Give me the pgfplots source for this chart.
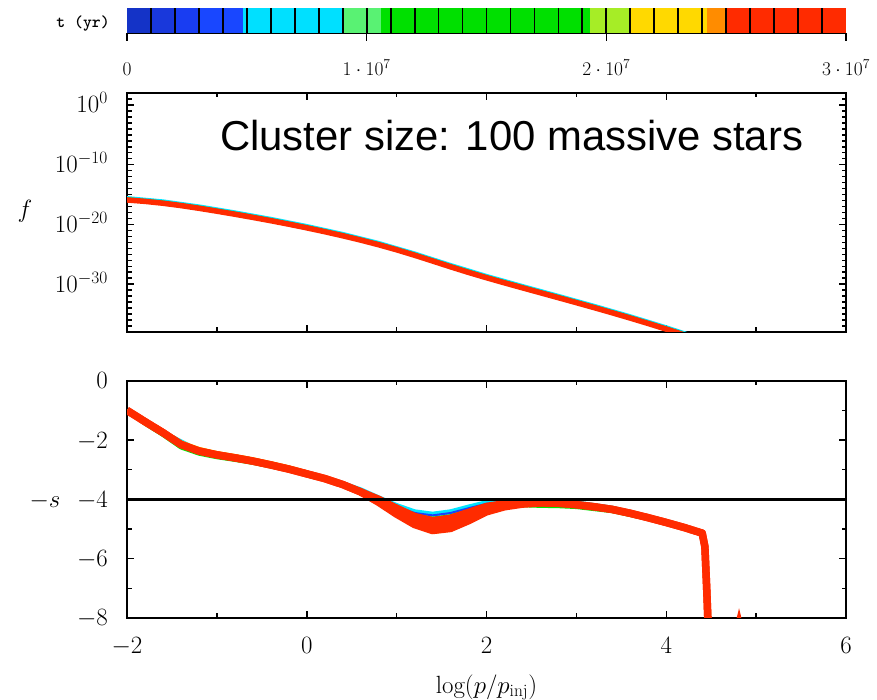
\RequirePackage{fix-cm}
\documentclass[border=0pt]{standalone}
\usepackage{fontspec}
\usepackage{pgfplots}
\pgfplotsset{compat=1.18}
\newfontfamily\arialfont{Liberation Sans}
\definecolor{cbA}{rgb}{0.08,0.2,0.78}
\definecolor{cbB}{rgb}{0.1,0.22,0.86}
\definecolor{cbC}{rgb}{0.1,0.24,0.95}
\definecolor{cbD}{rgb}{0.1,0.28,1}
\definecolor{cbE}{rgb}{0,0.88,1}
\definecolor{cbF}{rgb}{0.35,0.95,0.45}
\definecolor{cbG}{rgb}{0,0.88,0}
\definecolor{cbH}{rgb}{0.65,0.93,0.15}
\definecolor{cbI}{rgb}{1,0.85,0}
\definecolor{cbJ}{rgb}{1,0.55,0}
\definecolor{cbK}{rgb}{1,0.17,0}
\definecolor{pblue}{rgb}{0.1,0.25,1}
\definecolor{pcyan}{rgb}{0,0.9,1}
\definecolor{pgreen}{rgb}{0,0.9,0}
\definecolor{pyellow}{rgb}{1,0.9,0}
\definecolor{pred}{rgb}{1,0.17,0}
\pgfplotsset{
  gp/.style={scale only axis, width=719bp,
    axis line style={line width=2.4bp},
    tick align=inside, major tick length=7bp, minor tick length=4.5bp,
    tick style={black, line width=1.5bp},
    tick label style={font=\fontsize{25}{29}\selectfont},
    yticklabel style={anchor=base east, inner sep=0pt, xshift=-19bp, yshift=-8bp},
    xticklabel style={anchor=base, inner sep=0pt, yshift=-36bp},
    xmin=-2, xmax=6, xtick={-2,0,2,4,6}, minor xtick={-1,1,3,5}},
}
\begin{document}
\begin{tikzpicture}
\useasboundingbox (0bp,0bp) rectangle (877bp,700bp);

% ---------- colour bar ----------
\begin{axis}[at={(127bp,667bp)}, anchor=south west, scale only axis,
  width=719bp, height=25bp, xmin=0, xmax=30, ymin=0, ymax=1,
  axis x line*=bottom, axis y line=none,
  axis line style={line width=1.8bp},
  xtick={0,10,20,30},
  xticklabels={$0$,$1\cdot10^{7}$,$2\cdot10^{7}$,$3\cdot10^{7}$},
  tick align=outside, major tick length=8bp,
  tick style={black,line width=1.6bp},
  xticklabel style={font=\fontsize{19.5}{23}\selectfont, anchor=base, inner sep=0pt, yshift=-35bp}]
\addplot[fill=cbA, draw=none] coordinates {(0,1) (1,1)} \closedcycle;
\addplot[fill=cbB, draw=none] coordinates {(1,1) (2,1)} \closedcycle;
\addplot[fill=cbC, draw=none] coordinates {(2,1) (3,1)} \closedcycle;
\addplot[fill=cbD, draw=none] coordinates {(3,1) (4.85,1)} \closedcycle;
\addplot[fill=cbE, draw=none] coordinates {(4.85,1) (9,1)} \closedcycle;
\addplot[fill=cbF, draw=none] coordinates {(9,1) (10.6,1)} \closedcycle;
\addplot[fill=cbG, draw=none] coordinates {(10.6,1) (19.3,1)} \closedcycle;
\addplot[fill=cbH, draw=none] coordinates {(19.3,1) (21,1)} \closedcycle;
\addplot[fill=cbI, draw=none] coordinates {(21,1) (24.2,1)} \closedcycle;
\addplot[fill=cbJ, draw=none] coordinates {(24.2,1) (25,1)} \closedcycle;
\addplot[fill=cbK, draw=none] coordinates {(25,1) (30,1)} \closedcycle;
\addplot[ycomb, black, line width=1.8bp] coordinates {
 (1,1) (2,1) (3,1) (4,1) (5,1) (6,1) (7,1) (8,1) (9,1) (10,1)
 (11,1) (12,1) (13,1) (14,1) (15,1) (16,1) (17,1) (18,1) (19,1) (20,1)
 (21,1) (22,1) (23,1) (24,1) (25,1) (26,1) (27,1) (28,1) (29,1)};
\end{axis}

% ---------- f panel ----------
\begin{axis}[gp, at={(127bp,368bp)}, anchor=south west, height=239bp,
  ymode=log, ymin=1e-38, ymax=1e2,
  ytick={1e-30,1e-20,1e-10,1},
  yticklabels={$10^{-30}$,$10^{-20}$,$10^{-10}$,$10^{0}$},
  minor ytick={1e-37,1e-36,1e-35,1e-34,1e-33,1e-32,1e-31,
    1e-29,1e-28,1e-27,1e-26,1e-25,1e-24,1e-23,1e-22,1e-21,
    1e-19,1e-18,1e-17,1e-16,1e-15,1e-14,1e-13,1e-12,1e-11,
    1e-9,1e-8,1e-7,1e-6,1e-5,1e-4,1e-3,1e-2,1e-1,1e1},
  xticklabels={}]
\addplot[pcyan, line width=3bp] coordinates {
 (-2,3.162e-16) (-1.6,8.89e-17) (-1.2,1.279e-17) (-0.8,1.288e-18) (-0.4,1.057e-19)
 (0,6.761e-21) (0.4,3.206e-22) (0.8,1.002e-23) (1.2,1.754e-25) (1.6,2.042e-27)
 (2.0,3.013e-29) (2.4,6.194e-31) (2.8,1.384e-32) (3.2,2.931e-34) (3.6,5.333e-36)
 (4.0,7.551e-38) (4.2,8.035e-39) (4.4,8.0e-40)};
\addplot[pgreen, line width=3bp] coordinates {
 (-2,1.995e-16) (-1.6,5.61e-17) (-1.2,8.07e-18) (-0.8,8.13e-19) (-0.4,6.67e-20)
 (0,4.266e-21) (0.4,2.023e-22) (0.8,6.32e-24) (1.2,1.107e-25) (1.6,1.288e-27)
 (2.0,1.901e-29) (2.4,3.908e-31) (2.8,8.73e-33) (3.2,1.849e-34) (3.6,3.365e-36)
 (4.0,4.764e-38) (4.2,5.07e-39) (4.4,5.0e-40)};
\addplot[pred, line width=5.5bp] coordinates {
 (-2,1.259e-16) (-1.8,7.278e-17) (-1.6,3.540e-17) (-1.4,1.442e-17) (-1.2,5.093e-18)
 (-1.0,1.660e-18) (-0.8,5.129e-19) (-0.6,1.510e-19) (-0.4,4.207e-20) (-0.2,1.102e-20)
 (0,2.692e-21) (0.2,6.109e-22) (0.4,1.276e-22) (0.6,2.404e-23) (0.8,3.990e-24)
 (1.0,5.702e-25) (1.2,6.982e-26) (1.4,7.621e-27) (1.6,8.128e-28) (1.8,9.333e-29)
 (2.0,1.199e-29) (2.2,1.683e-30) (2.4,2.466e-31) (2.6,3.681e-32) (2.8,5.508e-33)
 (3.0,8.128e-34) (3.2,1.167e-34) (3.4,1.614e-35) (3.6,2.123e-36) (3.8,2.618e-37)
 (4.0,3.006e-38) (4.2,3.199e-39)};
\end{axis}

% ---------- -s panel ----------
\begin{axis}[gp, at={(127bp,82bp)}, anchor=south west, height=237.3bp,
  ymin=-8, ymax=0, ytick={-8,-6,-4,-2,0}, minor ytick={-7,-5,-3,-1}]
\addplot[pcyan, line width=5bp] coordinates {
 (-2,-1.0) (-1.6,-1.75) (-1.2,-2.37) (-0.8,-2.6) (-0.4,-2.84) (0,-3.13) (0.4,-3.47)
 (0.6,-3.68) (0.8,-3.95) (1.0,-4.21) (1.2,-4.42) (1.4,-4.5) (1.6,-4.42) (1.8,-4.26)
 (2.0,-4.11) (2.2,-4.05) (2.4,-4.04) (2.6,-4.04) (2.8,-4.06) (3.0,-4.12) (3.4,-4.3)
 (3.8,-4.6) (4.2,-4.93) (4.4,-5.12) (4.43,-5.6) (4.45,-7.0) (4.47,-8.6)};
\addplot[pblue, line width=2bp] coordinates {
 (-2,-1.0) (-1.6,-1.75) (-1.2,-2.37) (-0.8,-2.6) (-0.4,-2.84) (0,-3.13) (0.4,-3.47)
 (0.6,-3.7) (0.8,-3.98) (1.0,-4.25) (1.2,-4.46) (1.4,-4.54) (1.6,-4.46) (1.8,-4.3)
 (2.0,-4.15) (2.2,-4.08) (2.4,-4.06) (2.6,-4.06) (2.8,-4.08) (3.0,-4.14) (3.4,-4.31)
 (3.8,-4.6) (4.2,-4.93) (4.4,-5.12) (4.43,-5.6) (4.45,-7.0) (4.47,-8.6)};
\addplot[pgreen, line width=4bp] coordinates {
 (-2,-1.0) (-1.8,-1.45) (-1.6,-1.83) (-1.4,-2.25) (-1.2,-2.46) (-1.0,-2.58) (-0.8,-2.67)
 (-0.6,-2.77) (-0.4,-2.89) (-0.2,-3.02) (0,-3.16) (0.4,-3.5) (0.6,-3.73) (0.8,-4.02)
 (1.0,-4.33) (1.2,-4.56) (1.4,-4.65) (1.6,-4.57) (1.8,-4.4) (2.0,-4.22) (2.2,-4.16)
 (2.4,-4.2) (2.6,-4.22) (2.8,-4.23) (3.0,-4.26) (3.4,-4.4) (3.8,-4.66) (4.2,-4.98)
 (4.4,-5.16) (4.44,-5.8) (4.47,-7.5) (4.49,-8.6)};
\addplot[pyellow, line width=3bp] coordinates {
 (-2,-1.0) (-1.8,-1.33) (-1.6,-1.68) (-1.4,-2.06) (-1.2,-2.28) (-1.0,-2.42) (-0.8,-2.52)
 (-0.6,-2.63) (-0.4,-2.76) (-0.2,-2.9) (0,-3.07) (0.4,-3.47) (0.6,-3.76) (0.8,-4.1)
 (1.0,-4.52) (1.2,-4.9) (1.4,-5.12) (1.6,-5.04) (1.8,-4.76) (2.0,-4.42) (2.2,-4.24)
 (2.4,-4.16) (3.0,-4.18) (3.6,-4.47) (4.0,-4.78) (4.4,-5.14) (4.43,-5.6) (4.45,-7.0) (4.47,-8.6)};
% red: upper, middle and lower members of the late-time band
\addplot[pred, line width=7.5bp, line join=round] coordinates {
 (-2,-1.0) (-1.8,-1.38) (-1.6,-1.75) (-1.4,-2.15) (-1.2,-2.37) (-1.0,-2.5) (-0.8,-2.6)
 (-0.6,-2.71) (-0.4,-2.84) (-0.2,-2.98) (0,-3.14) (0.2,-3.30) (0.4,-3.50) (0.6,-3.75)
 (0.8,-4.0) (1.0,-4.3) (1.2,-4.58) (1.4,-4.72) (1.6,-4.64) (1.8,-4.44) (2.0,-4.24)
 (2.2,-4.15) (2.4,-4.12) (2.6,-4.12) (2.8,-4.13) (3.0,-4.18) (3.2,-4.25) (3.4,-4.34)
 (3.6,-4.47) (3.8,-4.62) (4.0,-4.78) (4.2,-4.95) (4.4,-5.14) (4.43,-5.6) (4.45,-7.0) (4.47,-8.6)};
\addplot[pred, line width=7.5bp, line join=round] coordinates {
 (0.6,-3.75) (0.8,-4.05) (1.0,-4.4) (1.2,-4.72) (1.4,-4.89) (1.6,-4.81) (1.8,-4.58)
 (2.0,-4.33) (2.2,-4.2) (2.4,-4.14) (2.6,-4.12)};
\addplot[pred, line width=7.5bp, line join=round] coordinates {
 (-2,-1.0) (-1.8,-1.38) (-1.6,-1.75) (-1.4,-2.15) (-1.2,-2.37) (-1.0,-2.5) (-0.8,-2.6)
 (-0.6,-2.71) (-0.4,-2.84) (-0.2,-2.98) (0,-3.14) (0.2,-3.30) (0.4,-3.50) (0.6,-3.75)
 (0.8,-4.1) (1.0,-4.5) (1.2,-4.85) (1.4,-5.05) (1.6,-4.98) (1.8,-4.72) (2.0,-4.42)
 (2.2,-4.25) (2.4,-4.16) (2.6,-4.12) (2.8,-4.13) (3.0,-4.18) (3.2,-4.25) (3.4,-4.34)
 (3.6,-4.47) (3.8,-4.62) (4.0,-4.78) (4.2,-4.95) (4.4,-5.14) (4.43,-5.6) (4.45,-7.0) (4.47,-8.6)};
\addplot[pred, line width=2.5bp] coordinates {(4.79,-8.1) (4.81,-7.85) (4.83,-8.1)};
\addplot[black, line width=2.4bp] coordinates {(-2,-4) (6,-4)};
\end{axis}

% ---------- labels ----------
\node[font=\ttfamily\bfseries\fontsize{17}{20}\selectfont, anchor=base] at (83bp,672bp) {t (yr)};
\node[font=\fontsize{25}{29}\selectfont] at (25bp,489bp) {$f$};
\node[font=\fontsize{25}{29}\selectfont] at (45bp,199bp) {$-s$};
\node[font=\fontsize{25}{29}\selectfont, anchor=base] at (486.5bp,7bp) {$\log(p/p_{\mathrm{inj}})$};
\node[font=\arialfont\fontsize{42}{50}\selectfont, anchor=base west, inner sep=0pt] at (220bp,549bp) {Cluster size: 100 massive stars};
\end{tikzpicture}
\end{document}
